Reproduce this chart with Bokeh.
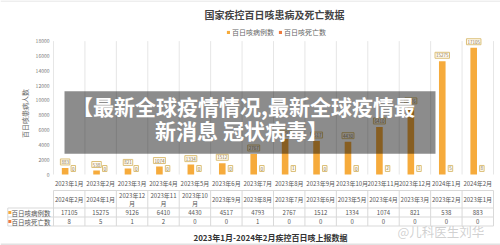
import math
from bokeh.plotting import figure
from bokeh.models import Range1d, FixedTicker, Legend, LegendItem, BoxAnnotation, Label
from bokeh.core.properties import value
from bokeh.embed import file_html
from bokeh.resources import INLINE

# ---------------- data ----------------
months = ["2023年1月", "2023年2月", "2023年3月", "2023年4月", "2023年5月", "2023年6月",
          "2023年7月", "2023年8月", "2023年9月", "2023年10月", "2023年11月", "2023年12月",
          "2024年1月", "2024年2月"]
cases = [883, 538, 821, 1074, 1334, 1512, 2767, 4793, 4517, 4430, 6410, 9126, 15275, 17105]
deaths = [0, 0, 0, 0, 0, 0, 0, 1, 0, 0, 2, 1, 5, 8]
y_ticks = [0, 2000, 4000, 6000, 8000, 10000, 12000, 14000, 16000, 18000]
series_names = ["百日咳病例数", "百日咳死亡数"]
table_headers = ["2024年2月", "2024年1月", "2023年12\n月", "2023年11\n月", "2023年10\n月",
                 "2023年9月", "2023年8月", "2023年7月", "2023年6月", "2023年5月",
                 "2023年4月", "2023年3月", "2023年2月", "2023年1月"]
table_cases = cases[::-1]
table_deaths = deaths[::-1]
chart_title = "国家疾控百日咳患病及死亡数据"
y_title = "百日咳患病人数"
footer = "2023年1月-2024年2月疾控百日咳上报数据"
banner_lines = ["【最新全球疫情情况,最新全球疫情最", "新消息 冠状病毒】"]
watermark = "@儿科医生刘华"

FONT = "Noto Sans CJK SC"
C_CASES = "#F6AB3C"
C_DEATHS = "#EE7B3E"
GRID = "#e6e6e6"
TABLE_LINE = "#d9d9d9"

# ---------------- geometry helpers (canvas pixels -> data) ----------------
W, H = 500, 245
LEFT, RIGHT = 53, 493
CAT_W = (RIGHT - LEFT) / 14.0
ZERO_PX = 174.0
Y18K_PX = 40.6
UNITS_PER_PX = 18000 / (ZERO_PX - Y18K_PX)


def px2x(px):
    return (px - LEFT) / CAT_W - 0.5


def py(px):
    return (ZERO_PX - px) * UNITS_PER_PX


idx = list(range(len(months)))

p = figure(width=W, height=H, x_range=Range1d(px2x(0), px2x(W)), y_range=Range1d(py(H), py(0)),
           output_backend="svg", toolbar_location=None, title=None, min_border=0)
p.xgrid.visible = False
p.ygrid.visible = False
p.outline_line_color = None
p.background_fill_color = "white"
p.border_fill_color = "white"

xa = p.xaxis[0]
xa.fixed_location = 0
xa.ticker = FixedTicker(ticks=idx)
xa.major_label_overrides = {i: m for i, m in zip(idx, months)}
xa.axis_line_color = None
xa.major_tick_line_color = None
xa.minor_tick_line_color = None
xa.major_tick_out = 0
xa.major_tick_in = 0
xa.minor_tick_out = 0
xa.major_label_text_font_size = "6px"
xa.major_label_text_font = FONT
xa.major_label_text_color = "#555555"
xa.major_label_standoff = 4

ya = p.yaxis[0]
ya.fixed_location = -0.5
ya.ticker = FixedTicker(ticks=y_ticks)
ya.axis_line_color = None
ya.major_tick_line_color = None
ya.minor_tick_line_color = None
ya.major_tick_out = 0
ya.major_tick_in = 0
ya.minor_tick_out = 0
ya.major_label_text_font_size = "5px"
ya.major_label_text_font = FONT
ya.major_label_text_color = "#777777"
ya.major_label_standoff = 4

seps = [i - 0.5 for i in range(len(months) + 1)]
p.segment(x0=seps, y0=0, x1=seps, y1=y_ticks[-1], line_color=GRID, line_width=1)

r_cases = p.vbar(x=[i - 0.13 for i in idx], top=cases, bottom=0, width=0.21,
                 fill_color=C_CASES, line_color=None)
r_deaths = p.vbar(x=[i + 0.13 for i in idx], top=deaths, bottom=0, width=0.21,
                  fill_color=C_DEATHS, line_color=None)

lab_kw = dict(text_align="center", text_baseline="bottom", y_offset=-3,
              text_font_size="4.5px", text_font=value(FONT), text_color="#8a7650",
              background_fill_color="#fffaf0", border_line_color="#dcc07a",
              border_line_width=1, padding=1)
p.text(x=[i - 0.13 for i in idx], y=cases, text=[str(v) for v in cases], **lab_kw)
p.text(x=[i + 0.13 for i in idx], y=deaths, text=[str(v) for v in deaths], **lab_kw)

p.text(x=[px2x(274)], y=[py(13.5)], text=[chart_title], text_align="center",
       text_baseline="middle", text_font_size="10px", text_font_style="bold",
       text_font=value(FONT), text_color="#444444")

p.text(x=[px2x(24.5)], y=[py(113)], text=[y_title], angle=math.pi / 2,
       text_align="center", text_baseline="middle", text_font_size="7px",
       text_font=value(FONT), text_color="#666666")

legend = Legend(items=[LegendItem(label=series_names[0], renderers=[r_cases]),
                       LegendItem(label=series_names[1], renderers=[r_deaths])],
                orientation="horizontal", location=(226, 208), padding=0, margin=0,
                spacing=4, label_standoff=2, glyph_width=4, glyph_height=4,
                label_height=8, label_width=10, label_text_font_size="7px",
                label_text_font=FONT, label_text_color="#666666",
                background_fill_alpha=0, border_line_color=None)
p.add_layout(legend)

# top card border
p.segment(x0=[px2x(0)], y0=[py(0.5)], x1=[px2x(W)], y1=[py(0.5)], line_color="#dddddd",
          line_width=1)

# ---------------- data table ----------------
LX = px2x(7.3)
TOP, H1, H2, BOT = py(190), py(207.5), py(216.5), py(225.5)
hy = [TOP, H1, H2, BOT]
p.segment(x0=[-0.5, LX, LX, LX], y0=hy, x1=[13.5] * 4, y1=hy, line_color=TABLE_LINE, line_width=1)
vx = seps + [LX]
p.segment(x0=vx, y0=[TOP] * len(seps) + [H1], x1=vx, y1=[BOT] * len(vx),
          line_color=TABLE_LINE, line_width=1)

tkw = dict(text_align="center", text_baseline="middle", text_font_size="6px",
           text_font=value(FONT), text_color="#555555")
hx, hyy, ht = [], [], []
for i, h in zip(idx, table_headers):
    parts = h.split("\n")
    if len(parts) == 1:
        hx.append(i); hyy.append(py(199)); ht.append(parts[0])
    else:
        for k, part in enumerate(parts):
            hx.append(i); hyy.append(py(194.8 + 8.2 * k)); ht.append(part)
p.text(x=hx, y=hyy, text=ht, **tkw)
p.text(x=idx, y=[py(212)] * len(idx), text=[str(v) for v in table_cases], **tkw)
p.text(x=idx, y=[py(221)] * len(idx), text=[str(v) for v in table_deaths], **tkw)

p.scatter(x=[px2x(9.3)] * 2, y=[py(212), py(221)], marker="square", size=3,
          fill_color=[C_CASES, C_DEATHS], line_color=None)
p.text(x=[px2x(11)] * 2, y=[py(212), py(221)], text=series_names, text_align="left",
       text_baseline="middle", text_font_size="6.5px", text_font=value(FONT),
       text_color="#555555")

p.text(x=[px2x(270)], y=[py(237.3)], text=[footer], text_align="center", text_baseline="middle",
       text_font_size="8px", text_font_style="bold", text_font=value(FONT),
       text_color="#333333")
p.text(x=[px2x(397)], y=[py(231)], text=[watermark], text_align="left", text_baseline="middle",
       text_font_size="12.5px", text_font=value(FONT), text_color="#aaaaaa", text_alpha=0.55)
p.segment(x0=[px2x(0)], y0=[py(244)], x1=[px2x(W)], y1=[py(244)], line_color="#e2e2e2",
          line_width=2)

# ---------------- overlay banner ----------------
p.add_layout(BoxAnnotation(left=px2x(64), right=px2x(435), top=py(90.7), bottom=py(153.3),
                           fill_color="black", fill_alpha=0.45, line_color=None))
for line, cx, cy in zip(banner_lines, [243, 241], [105, 129]):
    p.add_layout(Label(x=px2x(cx), y=py(cy), text=line, text_align="center",
                       text_baseline="middle", text_font_size="21px", text_font_style="bold",
                       text_font=FONT, text_color="white"))

open("out.html", "w").write(file_html(p, INLINE))
